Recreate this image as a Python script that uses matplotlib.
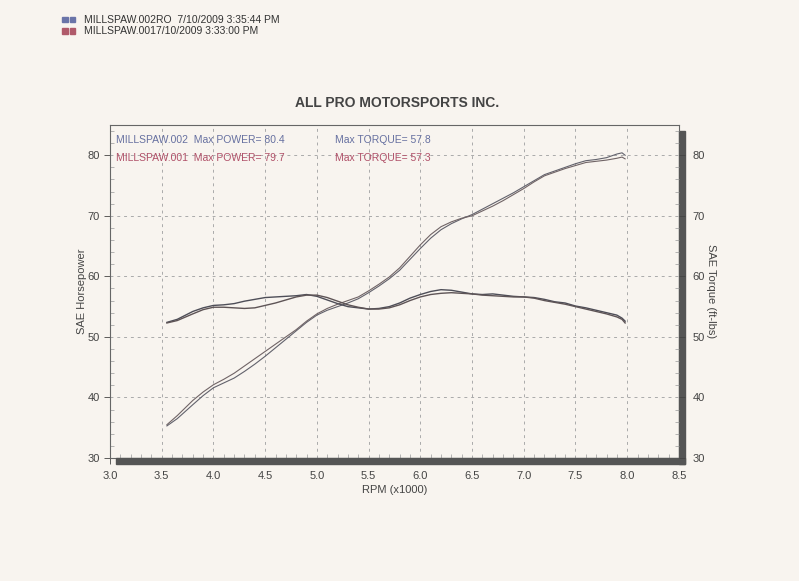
import matplotlib
matplotlib.use("Agg")
import matplotlib.pyplot as plt
from matplotlib.patches import Rectangle
from matplotlib.ticker import MultipleLocator

# ---------------------------------------
# Dyno data
# ---------------------------------------

# run 002 (blue)
rpm_hp_a = [3.55, 3.65, 3.8, 3.9, 4.0, 4.1, 4.2, 4.3, 4.4, 4.5, 4.6, 4.7, 4.8, 4.9, 5.0, 5.1,
            5.2, 5.3, 5.4, 5.5, 5.6, 5.7, 5.8, 5.9, 6.0, 6.1, 6.2, 6.3, 6.4, 6.5, 6.6, 6.7,
            6.8, 6.9, 7.0, 7.1, 7.2, 7.3, 7.4, 7.5, 7.6, 7.7, 7.8, 7.9, 7.95, 7.98]
hp_a = [35.3, 36.5, 38.8, 40.3, 41.6, 42.4, 43.2, 44.3, 45.5, 46.8, 48.2, 49.6, 51.0, 52.4,
        53.6, 54.4, 55.0, 55.6, 56.3, 57.3, 58.4, 59.6, 61.0, 62.8, 64.6, 66.3, 67.7, 68.7,
        69.5, 70.2, 71.1, 72.0, 72.9, 73.8, 74.8, 75.8, 76.8, 77.4, 78.0, 78.6, 79.1, 79.3,
        79.6, 80.2, 80.4, 80.0]
rpm_tq_a = rpm_hp_a
tq_a = [52.4, 52.9, 54.2, 54.8, 55.2, 55.3, 55.5, 55.9, 56.2, 56.5, 56.6, 56.7, 56.8, 57.0,
        56.7, 56.1, 55.5, 55.0, 54.8, 54.6, 54.7, 55.0, 55.6, 56.4, 57.0, 57.5, 57.8, 57.7,
        57.4, 57.1, 57.0, 57.1, 56.9, 56.7, 56.6, 56.5, 56.2, 55.8, 55.6, 55.1, 54.8, 54.4,
        54.0, 53.6, 53.1, 52.6]

# run 001 (red)
rpm_hp_b = rpm_hp_a
hp_b = [35.5, 37.0, 39.5, 40.9, 42.1, 43.0, 44.0, 45.2, 46.4, 47.6, 48.8, 50.0, 51.2, 52.6,
        53.8, 54.7, 55.4, 56.0, 56.6, 57.6, 58.7, 59.9, 61.4, 63.3, 65.2, 66.9, 68.2, 69.0,
        69.6, 70.0, 70.8, 71.6, 72.5, 73.5, 74.5, 75.6, 76.6, 77.2, 77.8, 78.3, 78.8, 79.0,
        79.2, 79.5, 79.7, 79.4]
rpm_tq_b = rpm_hp_a
tq_b = [52.3, 52.7, 53.8, 54.5, 54.9, 54.9, 54.8, 54.7, 54.8, 55.2, 55.6, 56.1, 56.6, 56.9,
        56.9, 56.5, 55.9, 55.3, 54.9, 54.6, 54.6, 54.8, 55.3, 56.0, 56.6, 57.0, 57.2, 57.3,
        57.2, 57.1, 56.9, 56.8, 56.7, 56.6, 56.6, 56.4, 56.0, 55.7, 55.4, 55.0, 54.6, 54.2,
        53.8, 53.3, 52.9, 52.3]

x_ticks = [3.0, 3.5, 4.0, 4.5, 5.0, 5.5, 6.0, 6.5, 7.0, 7.5, 8.0, 8.5]
y_ticks = [30, 40, 50, 60, 70, 80]

# ---------------------------------------
# Figure
# ---------------------------------------

bg = "#f8f4ef"
txt = "#444444"
blue = "#6670a0"
red = "#b05068"
plt.rcParams['font.family'] = ['Liberation Sans', 'DejaVu Sans']

fig = plt.figure(figsize=(7.99, 5.81), dpi=100, facecolor=bg)
ax = fig.add_axes([0.1377, 0.2117, 0.712, 0.5732])
ax.set_facecolor(bg)

ax.plot(rpm_hp_a, hp_a, color="#62626c", lw=0.8)
ax.plot(rpm_hp_b, hp_b, color="#706466", lw=0.8)
ax.plot(rpm_tq_a, tq_a, color="#4e4e58", lw=1.0)
ax.plot(rpm_tq_b, tq_b, color="#5e5456", lw=1.0)

ax.set_xlim(3.0, 8.5)
ax.set_ylim(30, 85)
ax.set_xticks(x_ticks)
ax.set_xticklabels(["%.1f" % v for v in x_ticks])
ax.set_yticks(y_ticks)
ax.xaxis.set_minor_locator(MultipleLocator(0.1))
ax.yaxis.set_minor_locator(MultipleLocator(2))
ax.grid(True, which="major", ls=(0, (3, 4)), color="#aaaaaa", lw=0.7)
ax.tick_params(which="major", direction="out", length=4, labelsize=8,
               colors=txt, width=0.6)
ax.tick_params(axis="x", which="major", pad=5)
ax.tick_params(which="minor", direction="in", length=3, color="#999999", width=0.5)
for s in ax.spines.values():
    s.set_color("#666666")
    s.set_linewidth(0.8)

ax2 = ax.twinx()
ax2.set_ylim(30, 85)
ax2.set_yticks(y_ticks)
ax2.yaxis.set_minor_locator(MultipleLocator(2))
ax2.tick_params(which="major", direction="out", length=4, labelsize=8,
                colors=txt, width=0.6, pad=6)
ax2.tick_params(which="minor", direction="in", length=3, color="#999999", width=0.5)
for s in ax2.spines.values():
    s.set_visible(False)

# drop shadow under / right of the frame
ax.add_patch(Rectangle((0.01, -0.017), 1.0, 0.017, transform=ax.transAxes,
                       color="#555555", clip_on=False, zorder=5))
ax.add_patch(Rectangle((1.0, -0.017), 0.01, 1.0, transform=ax.transAxes,
                       color="#555555", clip_on=False, zorder=5))

ax.set_xlabel("RPM (x1000)", fontsize=8, color=txt, labelpad=3)
ax.set_ylabel("SAE Horsepower", fontsize=8, color=txt, labelpad=0)
ax2.set_ylabel("SAE Torque (ft-lbs)", fontsize=8, color=txt, rotation=-90, labelpad=8)

# run summaries inside the plot
ax.text(0.01, 0.955, "MILLSPAW.002  Max POWER= 80.4", transform=ax.transAxes,
        fontsize=7.5, color=blue, va="center")
ax.text(0.396, 0.955, "Max TORQUE= 57.8", transform=ax.transAxes,
        fontsize=7.5, color=blue, va="center")
ax.text(0.01, 0.9, "MILLSPAW.001  Max POWER= 79.7", transform=ax.transAxes,
        fontsize=7.5, color=red, va="center")
ax.text(0.396, 0.9, "Max TORQUE= 57.3", transform=ax.transAxes,
        fontsize=7.5, color=red, va="center")

fig.text(0.497, 0.822, "ALL PRO MOTORSPORTS INC.", ha="center", va="center",
         fontsize=10, fontweight="bold", color="#444444")

# file header
fig.text(0.105, 0.966, "MILLSPAW.002RO  7/10/2009 3:35:44 PM", fontsize=7.5,
         color="#333333", va="center")
fig.text(0.105, 0.946, "MILLSPAW.0017/10/2009 3:33:00 PM", fontsize=7.5,
         color="#333333", va="center")
for i, c in enumerate(["#6a74a8", "#b05a6a"]):
    yy = 0.962 - i * 0.02
    fig.patches.append(Rectangle((0.078, yy), 0.007, 0.009, color=c,
                                 transform=fig.transFigure, figure=fig))
    fig.patches.append(Rectangle((0.087, yy), 0.007, 0.009, color=c,
                                 transform=fig.transFigure, figure=fig))

fig.savefig("out.png", dpi=100, facecolor=bg)
